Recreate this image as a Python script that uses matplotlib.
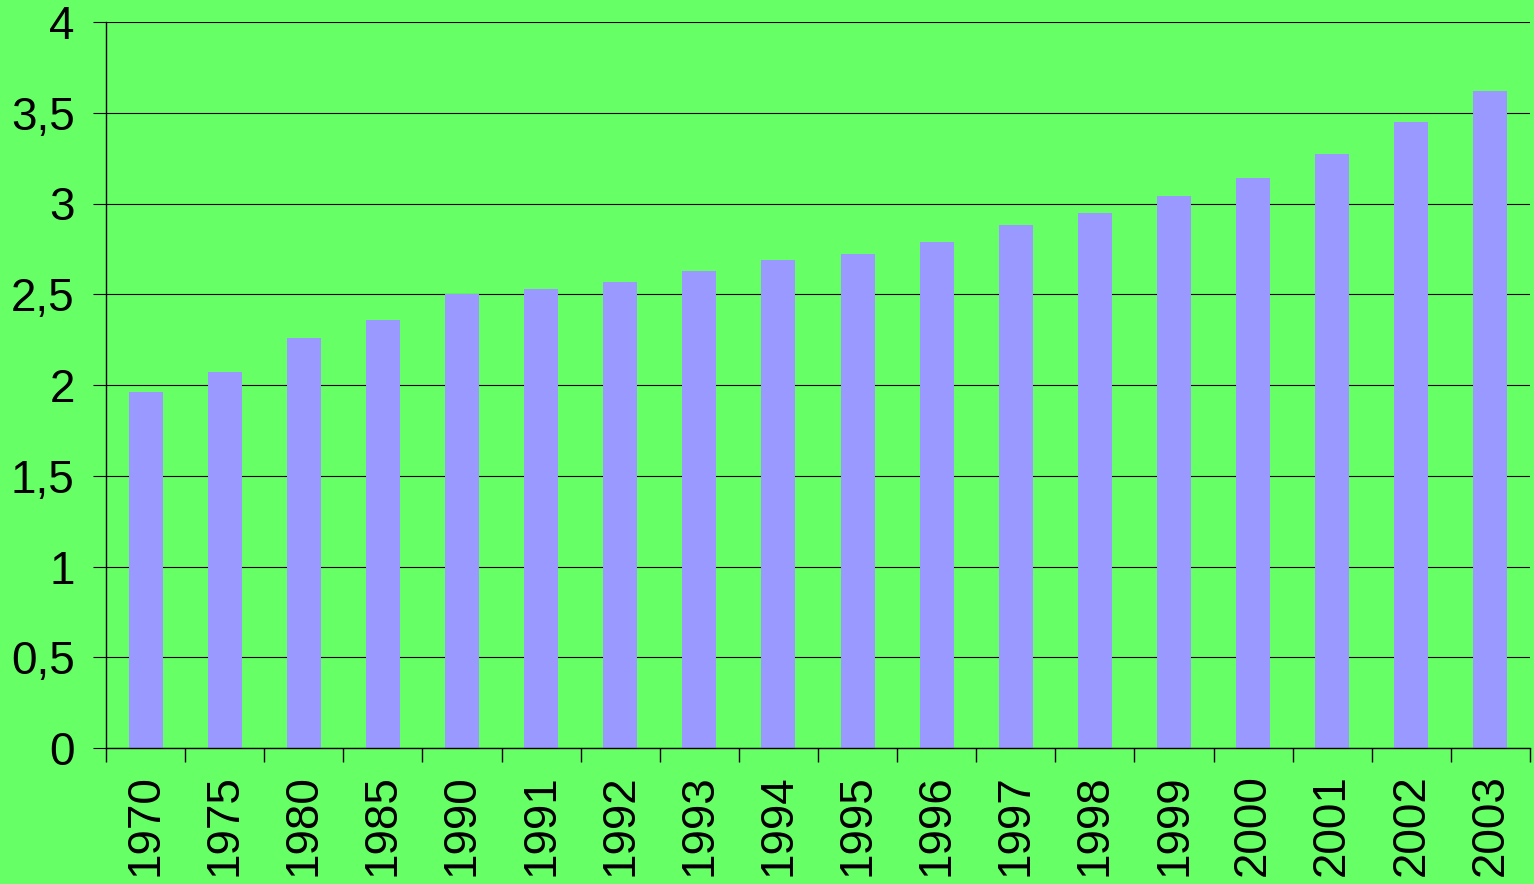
import numpy as np
import matplotlib.pyplot as plt
from matplotlib.ticker import FixedLocator, FuncFormatter

# Données
years = ['1970', '1975', '1980', '1985', '1990', '1991', '1992', '1993', '1994',
         '1995', '1996', '1997', '1998', '1999', '2000', '2001', '2002', '2003']
values = [1.96, 2.07, 2.26, 2.36, 2.50, 2.53, 2.57, 2.63, 2.69,
          2.72, 2.79, 2.88, 2.95, 3.04, 3.14, 3.27, 3.45, 3.62]
y_ticks = [0, 0.5, 1, 1.5, 2, 2.5, 3, 3.5, 4]

green = '#66FF66'
lavender = '#9999FF'

plt.rcParams['font.family'] = ['Liberation Sans', 'DejaVu Sans']

fig = plt.figure(figsize=(15.34, 8.84), dpi=100, facecolor=green)
ax = fig.add_axes([106 / 1534, 1 - 748 / 884, 1424 / 1534, 726 / 884])
ax.set_facecolor(green)

x = np.arange(len(years))
ax.bar(x, values, width=0.43, color=lavender, zorder=2)

ax.set_xlim(-0.5, len(years) - 0.5)
ax.set_ylim(0, 4)

# grille horizontale
ax.set_yticks(y_ticks)
ax.yaxis.set_major_formatter(FuncFormatter(lambda v, p: ('%g' % v).replace('.', ',')))
ax.grid(axis='y', color='black', linewidth=0.8, zorder=1)
ax.set_axisbelow(True)

# étiquettes des années, graduations entre les catégories
ax.set_xticks(x)
ax.set_xticklabels(years, rotation=90)
ax.xaxis.set_minor_locator(FixedLocator(np.arange(-0.5, len(years), 1.0)))
ax.tick_params(axis='x', which='major', length=0, pad=19, labelsize=33)
ax.tick_params(axis='x', which='minor', length=10, width=1, color='black')
ax.tick_params(axis='y', which='major', length=9.5, width=0.8, pad=13, labelsize=33)

for s in ['top', 'right']:
    ax.spines[s].set_visible(False)
for s in ['left', 'bottom']:
    ax.spines[s].set_linewidth(1)
    ax.spines[s].set_color('black')

fig.savefig('out.png', dpi=100, facecolor=green)
